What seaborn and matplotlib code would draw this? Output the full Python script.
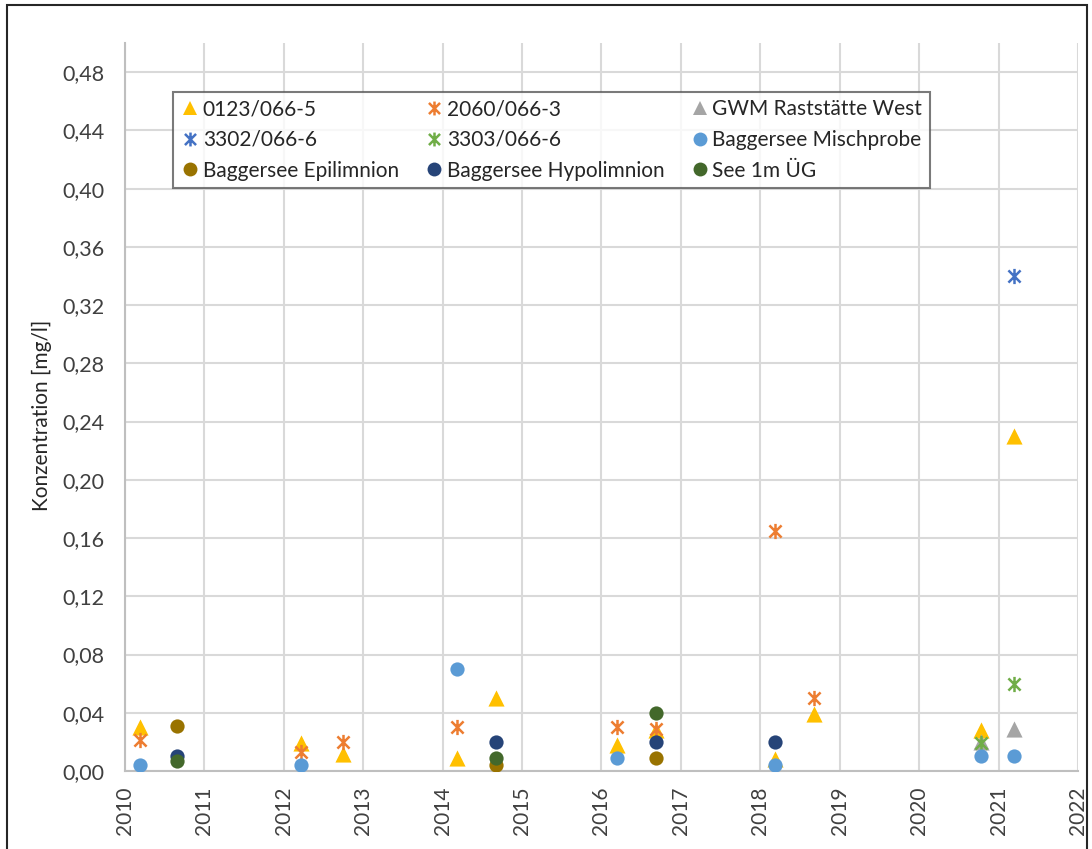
import matplotlib
matplotlib.use("Agg")
import matplotlib.pyplot as plt
from matplotlib.lines import Line2D
from matplotlib.path import Path
from matplotlib.patches import Rectangle
from matplotlib.ticker import FuncFormatter
import seaborn as sns

# sampling campaigns as decimal years (spring / autumn)
x_0123 = [2010.19, 2012.22, 2012.75, 2014.18, 2014.67, 2016.20, 2016.68, 2018.19, 2018.67, 2020.78, 2021.19]
y_0123 = [0.030, 0.019, 0.012, 0.009, 0.050, 0.018, 0.028, 0.008, 0.039, 0.028, 0.230]
x_2060 = [2010.19, 2012.22, 2012.75, 2014.18, 2016.20, 2016.68, 2018.19, 2018.67]
y_2060 = [0.021, 0.013, 0.020, 0.030, 0.030, 0.029, 0.165, 0.050]
x_gwm = [2020.78, 2021.19]
y_gwm = [0.020, 0.029]
x_3302 = [2021.19]
y_3302 = [0.340]
x_3303 = [2020.78, 2021.19]
y_3303 = [0.019, 0.060]
x_misch = [2010.19, 2012.22, 2014.18, 2016.20, 2018.19, 2020.78, 2021.19]
y_misch = [0.004, 0.004, 0.070, 0.009, 0.004, 0.010, 0.010]
x_epi = [2010.66, 2014.67, 2016.68]
y_epi = [0.031, 0.004, 0.009]
x_hypo = [2010.66, 2014.67, 2016.68, 2018.19]
y_hypo = [0.010, 0.020, 0.020, 0.020]
x_see = [2010.66, 2014.67, 2016.68]
y_see = [0.007, 0.009, 0.040]

year_ticks = list(range(2010, 2023))
conc_ticks = [0.0, 0.04, 0.08, 0.12, 0.16, 0.20, 0.24, 0.28, 0.32, 0.36, 0.40, 0.44, 0.48]

# Excel-style "star" marker: an x with a vertical bar through it
STAR = Path([(0, -1), (0, 1), (-0.8, -0.8), (0.8, 0.8), (-0.8, 0.8), (0.8, -0.8)],
            [Path.MOVETO, Path.LINETO] * 3)

series = [
    ("0123/066-5", x_0123, y_0123, "^", "#FFC000"),
    ("2060/066-3", x_2060, y_2060, STAR, "#ED7D31"),
    ("GWM Raststätte West", x_gwm, y_gwm, "^", "#A5A5A5"),
    ("3302/066-6", x_3302, y_3302, STAR, "#4472C4"),
    ("3303/066-6", x_3303, y_3303, STAR, "#70AD47"),
    ("Baggersee Mischprobe", x_misch, y_misch, "o", "#5B9BD5"),
    ("Baggersee Epilimnion", x_epi, y_epi, "o", "#997300"),
    ("Baggersee Hypolimnion", x_hypo, y_hypo, "o", "#264478"),
    ("See 1m ÜG", x_see, y_see, "o", "#43682B"),
]

sns.set_theme(style="whitegrid")
plt.rcParams["font.family"] = ["Lato", "DejaVu Sans"]
text_col = "#404040"

fig = plt.figure(figsize=(10.92, 8.49), dpi=100)
ax = fig.add_axes([125 / 1092, 1 - 771 / 849, 953 / 1092, 728 / 849])
ax.set_facecolor("white")

handles = []
for label, xs, ys, marker, color in series:
    if marker is STAR:
        sns.scatterplot(x=xs, y=ys, marker=marker, s=120, color=color, edgecolor=color,
                        linewidth=1.8, ax=ax, zorder=3, legend=False)
        h = Line2D([], [], linestyle="none", marker=marker, markersize=10,
                   markeredgecolor=color, markerfacecolor="none", markeredgewidth=1.8)
    else:
        size = 135 if marker == "^" else 105
        sns.scatterplot(x=xs, y=ys, marker=marker, s=size, color=color, edgecolor=color,
                        linewidth=0, ax=ax, zorder=3, legend=False)
        h = Line2D([], [], linestyle="none", marker=marker, markersize=10,
                   markeredgecolor=color, markerfacecolor=color, markeredgewidth=0)
    handles.append((h, label))

ax.set_xlim(2010, 2022)
ax.set_ylim(0, 0.5)
ax.set_xticks(year_ticks)
ax.set_yticks(conc_ticks)
ax.yaxis.set_major_formatter(FuncFormatter(lambda v, _: f"{v:.2f}".replace(".", ",")))
ax.grid(True, color="#D9D9D9", linewidth=1.5)
ax.set_axisbelow(True)
for side in ["top", "right"]:
    ax.spines[side].set_visible(False)
for side in ["left", "bottom"]:
    ax.spines[side].set_color("#BFBFBF")
    ax.spines[side].set_linewidth(1.5)

ax.tick_params(axis="x", length=0, pad=11, labelsize=15, labelcolor=text_col, labelrotation=90)
ax.tick_params(axis="y", length=0, pad=15, labelsize=15.5, labelcolor=text_col)

ax.set_ylabel("Konzentration [mg/l]", fontsize=15, color="#262626")
ax.yaxis.set_label_coords(-0.077, 0.488)

# legend is filled row by row in the original
order = [0, 3, 6, 1, 4, 7, 2, 5, 8]
leg = ax.legend([handles[i][0] for i in order], [handles[i][1] for i in order],
                ncol=3, loc="upper left", bbox_to_anchor=(0.05, 0.933), borderaxespad=0,
                frameon=True, fancybox=False, edgecolor="#595959", fontsize=15,
                handletextpad=0.1, handlelength=1.0, columnspacing=1.2,
                labelspacing=0.52, borderpad=0.35)
leg.get_frame().set_linewidth(1.5)
for t in leg.get_texts():
    t.set_color("#262626")

# outer chart border (cut off at the bottom in the original)
fig.patches.append(Rectangle((7 / 1092, -0.1), 1080 / 1092, 1 - 5 / 849 + 0.1,
                             transform=fig.transFigure, fill=False,
                             edgecolor="#262626", linewidth=1.5))

fig.savefig("out.png", dpi=100)
